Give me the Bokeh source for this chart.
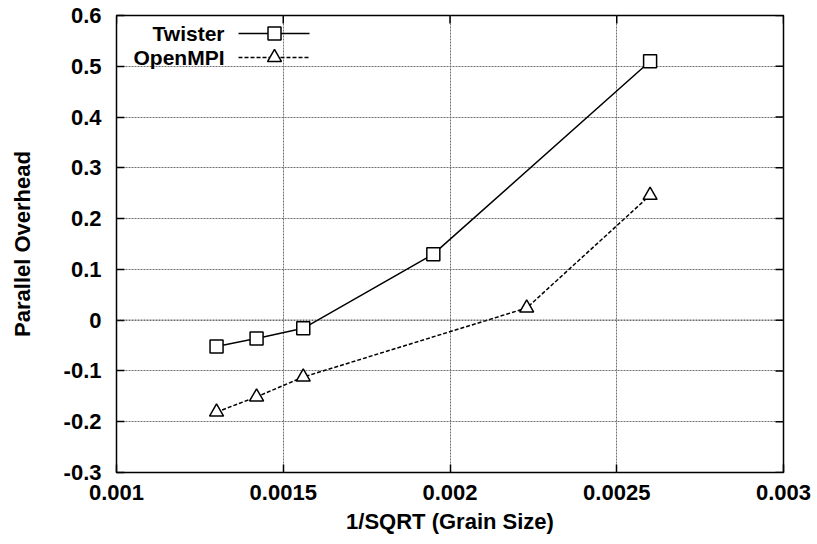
from bokeh.plotting import figure
from bokeh.models import FixedTicker, Range1d, Span
from bokeh.core.properties import value
from bokeh.embed import file_html
from bokeh.resources import INLINE

# Measured parallel overhead versus 1/sqrt(grain size)
twister_x = [0.00130, 0.00142, 0.00156, 0.00195, 0.00260]
twister_y = [-0.052, -0.036, -0.016, 0.130, 0.510]
openmpi_x = [0.00130, 0.00142, 0.00156, 0.00223, 0.00260]
openmpi_y = [-0.181, -0.151, -0.112, 0.024, 0.246]

x_ticks = [0.001, 0.0015, 0.002, 0.0025, 0.003]
x_tick_labels = ["0.001", "0.0015", "0.002", "0.0025", "0.003"]
y_ticks = [-0.3, -0.2, -0.1, 0.0, 0.1, 0.2, 0.3, 0.4, 0.5, 0.6]
y_tick_labels = ["-0.3", "-0.2", "-0.1", "0", "0.1", "0.2", "0.3", "0.4", "0.5", "0.6"]

FONT = "Liberation Sans"
X0, X1 = 0.001, 0.003
Y0, Y1 = -0.3, 0.6
LEFT, RIGHT, TOP, BOTTOM = 116, 34, 15, 72
W, H = 817, 544
FW, FH = W - LEFT - RIGHT, H - TOP - BOTTOM
TICK = 8

p = figure(width=W, height=H, x_range=Range1d(X0, X1), y_range=Range1d(Y0, Y1),
           output_backend="svg", toolbar_location=None,
           min_border_left=LEFT, min_border_right=RIGHT,
           min_border_top=TOP, min_border_bottom=BOTTOM)
p.background_fill_color = "white"
p.border_fill_color = "white"
p.outline_line_color = "black"
p.outline_line_width = 1.5

# grid: dotted gray, zero line darker
p.xgrid.ticker = FixedTicker(ticks=x_ticks[1:-1])
p.ygrid.ticker = FixedTicker(ticks=[t for t in y_ticks[1:-1] if t != 0.0])
for g in (p.xgrid, p.ygrid):
    g.grid_line_color = "#707070"
    g.grid_line_dash = "2 1"
    g.grid_line_width = 1
p.add_layout(Span(location=0, dimension="width", line_color="#222222",
                  line_dash="2 1", line_width=1))

for ax in (p.xaxis[0], p.yaxis[0]):
    ax.axis_line_color = None
    ax.major_tick_in = TICK
    ax.major_tick_out = 0
    ax.major_tick_line_color = "black"
    ax.major_tick_line_width = 1.5
    ax.minor_tick_line_color = None
    ax.major_label_text_font = FONT
    ax.major_label_text_font_style = "bold"
    ax.major_label_text_font_size = "22px"
    ax.major_label_text_color = "black"
    ax.axis_label_text_font = FONT
    ax.axis_label_text_font_style = "bold"
    ax.axis_label_text_font_size = "22px"
    ax.axis_label_text_color = "black"

p.xaxis.ticker = FixedTicker(ticks=x_ticks)
p.yaxis.ticker = FixedTicker(ticks=y_ticks)
p.xaxis.major_label_overrides = dict(zip(x_ticks, x_tick_labels))
p.yaxis.major_label_overrides = dict(zip(y_ticks, y_tick_labels))
p.xaxis.axis_label = "1/SQRT (Grain Size)"
p.yaxis.axis_label = "Parallel Overhead"
p.xaxis.major_label_standoff = 12
p.yaxis.major_label_standoff = 15
p.xaxis.axis_label_standoff = 6
p.yaxis.axis_label_standoff = 26


# pixel offsets inside the frame -> data units
def dx(px):
    return X0 + px / FW * (X1 - X0)


def dy(py):
    return Y1 - py / FH * (Y1 - Y0)


tick_dx = dx(TICK) - X0
tick_dy = Y1 - dy(TICK)

# mirrored inward ticks on the top and right edges
p.segment(x0=x_ticks, y0=[Y1] * len(x_ticks), x1=x_ticks,
          y1=[Y1 - tick_dy] * len(x_ticks), line_color="black", line_width=1.5)
p.segment(x0=[X1] * len(y_ticks), y0=y_ticks, x1=[X1 - tick_dx] * len(y_ticks),
          y1=y_ticks, line_color="black", line_width=1.5)

# series
p.line(twister_x, twister_y, line_color="black", line_width=1.5)
p.scatter(twister_x, twister_y, marker="square", size=13, fill_color="white",
          line_color="black", line_width=1.5)
p.line(openmpi_x, openmpi_y, line_color="black", line_width=1.5, line_dash="4 2")
p.scatter(openmpi_x, openmpi_y, marker="triangle", size=14, fill_color="white",
          line_color="black", line_width=1.5)

# legend: right-aligned names with line/marker samples to their right
p.text(x=[dx(108), dx(108)], y=[dy(18), dy(42)], text=["Twister", "OpenMPI"],
       text_align="right", text_baseline="middle", text_font=value(FONT),
       text_font_style="bold", text_font_size="21px", text_color="black")
p.line([dx(122), dx(193)], [dy(18), dy(18)], line_color="black", line_width=1.5)
p.scatter([dx(158)], [dy(18)], marker="square", size=13, fill_color="white",
          line_color="black", line_width=1.5)
p.line([dx(122), dx(193)], [dy(42), dy(42)], line_color="black", line_width=1.5,
       line_dash="4 2")
p.scatter([dx(158)], [dy(42)], marker="triangle", size=14, fill_color="white",
          line_color="black", line_width=1.5)

open("out.html", "w").write(file_html(p, INLINE))
